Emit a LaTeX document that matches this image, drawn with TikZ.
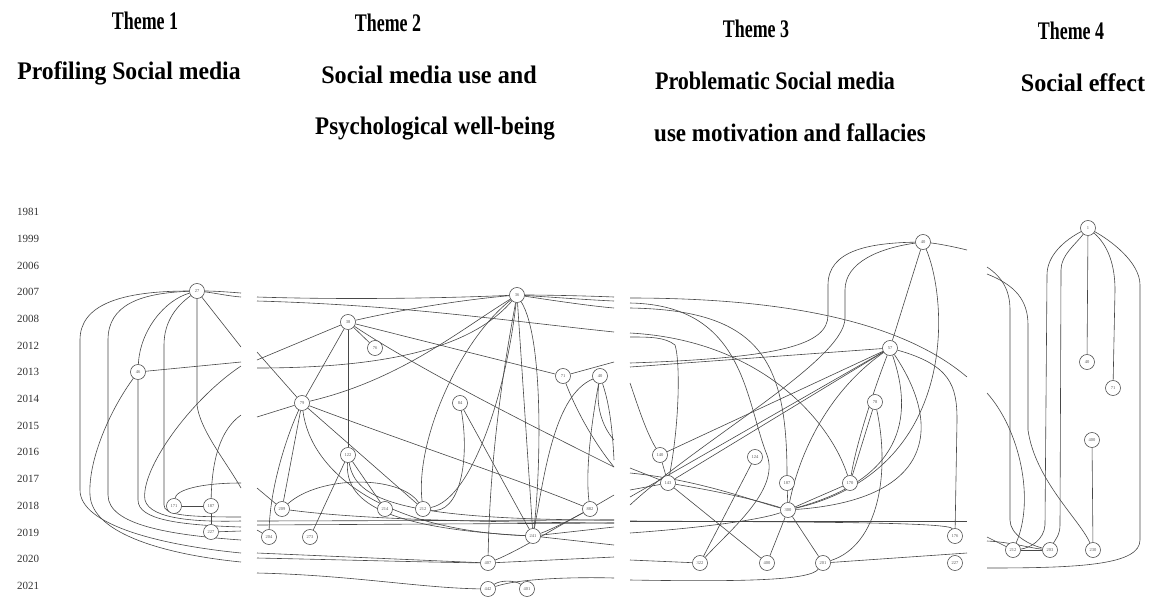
\documentclass[tikz,border=0pt]{standalone}
\usepackage{fontspec}
\setmainfont{Liberation Serif}
\pgfdeclarelayer{bg}
\pgfsetlayers{bg,main}
\begin{document}
\begin{tikzpicture}[x=1pt,y=-1pt,
  nd/.style={circle,draw=black!75,line width=0.55pt,fill=white,minimum size=15pt,inner sep=0pt,font=\fontsize{4.5}{5}\selectfont,text=black!65},
  ed/.style={draw=black!72,line width=0.6pt},
  ttl/.style={font=\bfseries\fontsize{23}{26}\selectfont,anchor=center,inner sep=0pt},
  yr/.style={font=\fontsize{11}{12}\selectfont,anchor=west,inner sep=0pt,text=black!80}]
\useasboundingbox (0,0) rectangle (1151,598);
% titles
\node[ttl] (t1) at (145,21) {\scalebox{0.78}[1.1]{Theme 1}};
\node[ttl] (s1) at (129,73) {\scalebox{1.03}[1.1]{Profiling Social media}};
\node[ttl] (t2) at (388,23) {\scalebox{0.78}[1.1]{Theme 2}};
\node[ttl] (s2a) at (429,75) {\scalebox{1.05}[1.1]{Social media use and}};
\node[ttl] (s2b) at (435,129) {\scalebox{1.0}[1.1]{Psychological well-being}};
\node[ttl] (t3) at (756,29) {\scalebox{0.78}[1.1]{Theme 3}};
\node[ttl] (s3a) at (775,81) {\scalebox{0.96}[1.1]{Problematic Social media}};
\node[ttl] (s3b) at (790,133) {\scalebox{1.0}[1.1]{use motivation and fallacies}};
\node[ttl] (t4) at (1071,31) {\scalebox{0.78}[1.1]{Theme 4}};
\node[ttl] (s4) at (1083,83) {\scalebox{1.05}[1.1]{Social effect}};
% years
\foreach \yy [count=\i from 0] in {1981,1999,2006,2007,2008,2012,2013,2014,2015,2016,2017,2018,2019,2020,2021}
  \node[yr] (y\yy) at (17,{212+26.7*\i}) {\yy};
% ---------- panel 1 ----------
\node[nd] (a27) at (197,291) {27};
\node[nd] (a46) at (138,372) {46};
\node[nd] (a171) at (174,506) {171};
\node[nd] (a187) at (211,506) {187};
\node[nd] (a227) at (211,532) {227};
\coordinate (p1r1) at (241,293);
\coordinate (p1r2) at (241,297);
\coordinate (p1r3) at (241,347);
\coordinate (p1r4) at (241,362);
\coordinate (p1r5) at (241,366);
\coordinate (p1r6) at (241,415);
\coordinate (p1r7) at (241,488);
\coordinate (p1r8) at (241,483);
\coordinate (p1r9) at (241,517);
\coordinate (p1r10) at (241,521);
\coordinate (p1r11) at (241,527);
\coordinate (p1r12) at (241,531);
\coordinate (p1r13) at (241,540);
\coordinate (p1r14) at (241,553);
\coordinate (p1r15) at (241,562);
% ---------- panel 2 ----------
\node[nd] (b36) at (517,295) {36};
\node[nd] (b38) at (348,322) {38};
\node[nd] (b76) at (375,348) {76};
\node[nd] (b79) at (302,403) {79};
\node[nd] (b84) at (460,403) {84};
\node[nd] (b71) at (563,376) {71};
\node[nd] (b40) at (600,376) {40};
\node[nd] (b122) at (348,455) {122};
\node[nd] (b209) at (282,509) {209};
\node[nd] (b204) at (269,537) {204};
\node[nd] (b273) at (310,537) {273};
\node[nd] (b214) at (385,509) {214};
\node[nd] (b212) at (423,509) {212};
\node[nd] (b241) at (533,536) {241};
\node[nd] (b882) at (590,509) {882};
\node[nd] (b407) at (488,563) {407};
\node[nd] (b442) at (488,589) {442};
\node[nd] (b401) at (527,589) {401};
\coordinate (p2l1) at (257,297);
\coordinate (p2l2) at (257,301);
\coordinate (p2l3) at (257,352);
\coordinate (p2l4) at (257,360);
\coordinate (p2l5) at (257,368);
\coordinate (p2l6) at (257,417);
\coordinate (p2l7) at (257,488);
\coordinate (p2l8) at (257,521);
\coordinate (p2l9) at (257,525);
\coordinate (p2l10) at (257,530);
\coordinate (p2l11) at (257,553);
\coordinate (p2l12) at (257,558);
\coordinate (p2l13) at (257,573);
\coordinate (p2r1) at (614,297);
\coordinate (p2r2) at (614,301);
\coordinate (p2r3) at (614,308);
\coordinate (p2r4) at (614,332);
\coordinate (p2r5) at (614,362);
\coordinate (p2r6) at (614,440);
\coordinate (p2r7) at (614,460);
\coordinate (p2r8) at (614,467);
\coordinate (p2r9) at (614,495);
\coordinate (p2r10) at (614,520);
\coordinate (p2r11) at (614,523);
\coordinate (p2r15) at (614,527);
\coordinate (p2r12) at (614,545);
\coordinate (p2r13) at (614,557);
\coordinate (p2r14) at (614,578);
% ---------- panel 3 ----------
\node[nd] (c40) at (923,242) {40};
\node[nd] (c57) at (890,348) {57};
\node[nd] (c78) at (875,402) {78};
\node[nd] (c140) at (660,455) {140};
\node[nd] (c143) at (668,483) {143};
\node[nd] (c124) at (755,457) {124};
\node[nd] (c187) at (787,483) {187};
\node[nd] (c170) at (850,483) {170};
\node[nd] (c300) at (788,510) {300};
\node[nd] (c176) at (955,536) {176};
\node[nd] (c322) at (700,563) {322};
\node[nd] (c400) at (767,563) {400};
\node[nd] (c201) at (823,563) {201};
\node[nd] (c227) at (955,563) {227};
\coordinate (p3l1) at (630,298);
\coordinate (p3l2) at (630,303);
\coordinate (p3l3) at (630,308);
\coordinate (p3l4) at (630,333);
\coordinate (p3l5) at (630,337);
\coordinate (p3l6) at (630,363);
\coordinate (p3l7) at (630,367);
\coordinate (p3l8) at (630,383);
\coordinate (p3l9) at (630,468);
\coordinate (p3l10) at (630,473);
\coordinate (p3l11) at (630,490);
\coordinate (p3l12) at (630,497);
\coordinate (p3l13) at (630,505);
\coordinate (p3l14) at (630,521);
\coordinate (p3l15) at (630,533);
\coordinate (p3l16) at (630,560);
\coordinate (p3l17) at (630,580);
\coordinate (p3r1) at (967,250);
\coordinate (p3r2) at (967,377);
\coordinate (p3r3) at (967,521);
\coordinate (p3r4) at (967,553);
% ---------- panel 4 ----------
\node[nd] (d1) at (1088,228) {1};
\node[nd] (d40) at (1087,362) {40};
\node[nd] (d71) at (1113,388) {71};
\node[nd] (d400) at (1092,440) {400};
\node[nd] (d212) at (1013,550) {212};
\node[nd] (d203) at (1050,550) {203};
\node[nd] (d230) at (1093,550) {230};
\coordinate (p4l1) at (987,267);
\coordinate (p4l2) at (987,274);
\coordinate (p4l3) at (987,393);
\coordinate (p4l4) at (987,537);
\coordinate (p4l5) at (987,541);
\coordinate (p4l6) at (987,568);
\begin{pgfonlayer}{bg}
% panel 1 edges
\draw[ed] (a27) .. controls (215,291) and (228,292) .. (p1r1);
\draw[ed] (a27) .. controls (215,293) and (228,296) .. (p1r2);
\draw[ed] (a27) -- (p1r3);
\draw[ed] (a27) .. controls (120,291) and (80,305) .. (80,340) -- (80,490) .. controls (80,525) and (160,545) .. (p1r14);
\draw[ed] (a27) .. controls (140,293) and (108,305) .. (108,340) -- (108,495) .. controls (108,525) and (170,535) .. (p1r13);
\draw[ed] (a27) .. controls (165,300) and (140,330) .. (a46);
\draw[ed] (a27) .. controls (178,305) and (164,320) .. (164,345) -- (164,505) .. controls (164,515) and (185,517) .. (p1r9);
\draw[ed] (a27) -- (197,405) .. controls (200,430) and (225,460) .. (p1r7);
\draw[ed] (a46) -- (p1r4);
\draw[ed] (a46) -- (138,500) .. controls (138,520) and (180,525) .. (p1r11);
\draw[ed] (a46) .. controls (110,410) and (88,460) .. (90,495) .. controls (92,535) and (170,555) .. (p1r15);
\draw[ed] (p1r5) .. controls (190,400) and (140,470) .. (145,500) .. controls (150,520) and (200,522) .. (p1r10);
\draw[ed] (p1r6) .. controls (220,430) and (212,460) .. (a187);
\draw[ed] (a171) .. controls (176,490) and (200,483) .. (p1r8);
\draw[ed] (a171) -- (a187);
\draw[ed] (a187) -- (a227);
\draw[ed] (a227) -- (p1r12);
% panel 2 edges
\draw[ed] (p2l1) .. controls (350,300) and (450,298) .. (b36);
\draw[ed] (p2l2) .. controls (400,305) and (500,320) .. (p2r4);
\draw[ed] (b36) .. controls (550,295) and (590,296) .. (p2r1);
\draw[ed] (b36) .. controls (550,297) and (590,300) .. (p2r2);
\draw[ed] (b36) .. controls (550,300) and (590,306) .. (p2r3);
\draw[ed] (b38) -- (p2l4);
\draw[ed] (b38) .. controls (400,310) and (460,300) .. (b36);
\draw[ed] (b38) -- (b76);
\draw[ed] (b38) -- (b79);
\draw[ed] (b38) -- (b122);
\draw[ed] (b38) -- (b71);
\draw[ed] (b38) .. controls (420,370) and (540,430) .. (p2r8);
\draw[ed] (p2l6) -- (b79);
\draw[ed] (p2l3) -- (b79);
\draw[ed] (b79) .. controls (400,380) and (460,330) .. (b36);
\draw[ed] (p2l5) .. controls (380,368) and (470,350) .. (b36);
\draw[ed] (b79) -- (b209);
\draw[ed] (b79) .. controls (285,440) and (270,490) .. (b204);
\draw[ed] (b79) -- (b212);
\draw[ed] (b79) .. controls (400,440) and (520,480) .. (b882);
\draw[ed] (b79) .. controls (310,470) and (380,530) .. (b241);
\draw[ed] (b122) -- (b273);
\draw[ed] (b122) -- (b214);
\draw[ed] (b122) .. controls (345,500) and (380,528) .. (b241);
\draw[ed] (b122) .. controls (355,500) and (400,520) .. (p2r10);
\draw[ed] (b209) .. controls (320,475) and (400,475) .. (b212);
\draw[ed] (b209) .. controls (350,518) and (450,522) .. (p2r11);
\draw[ed] (p2l7) -- (b209);
\draw[ed] (p2l10) -- (b204);
\draw[ed] (p2l8) -- (p2r10);
\draw[ed] (p2l9) -- (p2r11);
\draw[ed] (b212) .. controls (415,440) and (460,340) .. (b36);
\draw[ed] (b212) .. controls (470,500) and (505,400) .. (b36);
\draw[ed] (b36) .. controls (505,360) and (490,450) .. (b407);
\draw[ed] (b36) -- (b241);
\draw[ed] (b36) .. controls (545,340) and (540,480) .. (b241);
\draw[ed] (b84) -- (b241);
\draw[ed] (b84) .. controls (470,460) and (460,515) .. (b212);
\draw[ed] (b71) -- (p2r5);
\draw[ed] (b71) .. controls (580,420) and (600,450) .. (p2r8);
\draw[ed] (b40) .. controls (592,420) and (585,470) .. (b882);
\draw[ed] (b40) .. controls (555,395) and (545,470) .. (b241);
\draw[ed] (b40) .. controls (595,410) and (605,430) .. (p2r6);
\draw[ed] (b40) .. controls (608,400) and (612,420) .. (p2r7);
\draw[ed] (b882) -- (p2r9);
\draw[ed] (b882) .. controls (570,520) and (550,530) .. (b241);
\draw[ed] (b882) .. controls (560,525) and (520,550) .. (b407);
\draw[ed] (b241) -- (p2r15);
\draw[ed] (b241) -- (p2r12);
\draw[ed] (b407) -- (p2r13);
\draw[ed] (p2l11) -- (b407);
\draw[ed] (p2l12) .. controls (350,560) and (420,562) .. (b407);
\draw[ed] (p2l13) .. controls (350,575) and (420,588) .. (b442);
\draw[ed] (b442) .. controls (500,580) and (515,580) .. (b401);
\draw[ed] (b442) .. controls (520,578) and (580,577) .. (p2r14);
% panel 3 edges
\draw[ed] (c40) .. controls (870,243) and (828,250) .. (828,285) -- (828,315) .. controls (828,345) and (780,358) .. (p3l6);
\draw[ed] (c40) .. controls (880,248) and (845,262) .. (845,290) -- (845,318) .. controls (845,360) and (700,440) .. (p3l13);
\draw[ed] (c40) -- (c57);
\draw[ed] (c40) .. controls (940,244) and (955,247) .. (p3r1);
\draw[ed] (c40) .. controls (948,300) and (960,470) .. (c300);
\draw[ed] (p3l1) .. controls (780,298) and (900,320) .. (p3r2);
\draw[ed] (p3l3) .. controls (760,310) and (787,360) .. (c187);
\draw[ed] (p3l4) .. controls (760,340) and (830,420) .. (c170);
\draw[ed] (p3l2) .. controls (745,305) and (745,400) .. (767,455) .. controls (780,490) and (730,530) .. (c322);
\draw[ed] (c143) .. controls (680,420) and (680,360) .. (675,345) .. controls (665,337) and (650,337) .. (p3l5);
\draw[ed] (c140) .. controls (645,430) and (636,400) .. (p3l8);
\draw[ed] (c57) -- (c140);
\draw[ed] (c57) -- (c143);
\draw[ed] (p3l7) -- (c57);
\draw[ed] (c57) .. controls (870,400) and (855,450) .. (c170);
\draw[ed] (c57) .. controls (830,390) and (800,450) .. (c300);
\draw[ed] (c57) .. controls (950,365) and (957,385) .. (957,420) -- (c176);
\draw[ed] (c57) .. controls (915,420) and (900,480) .. (c300);
\draw[ed] (c57) .. controls (945,430) and (930,500) .. (c300);
\draw[ed] (c78) -- (c170);
\draw[ed] (c78) .. controls (890,470) and (880,545) .. (c201);
\draw[ed] (c170) -- (c300);
\draw[ed] (c187) -- (c300);
\draw[ed] (c124) -- (c322);
\draw[ed] (c300) -- (c400);
\draw[ed] (c300) -- (c201);
\draw[ed] (c143) -- (c400);
\draw[ed] (c143) .. controls (710,490) and (750,498) .. (c300);
\draw[ed] (c140) -- (c143);
\draw[ed] (p3l9) -- (c143);
\draw[ed] (p3l11) -- (c143);
\draw[ed] (p3l12) -- (c57);
\draw[ed] (p3l10) .. controls (700,480) and (750,500) .. (c300);
\draw[ed] (p3l14) -- (p3r3);
\draw[ed] (p3l15) .. controls (700,528) and (760,520) .. (c300);
\draw[ed] (p3l14) .. controls (800,522) and (950,522) .. (c176);
\draw[ed] (p3l16) -- (c322);
\draw[ed] (p3l17) .. controls (750,582) and (810,580) .. (c201);
\draw[ed] (c201) -- (p3r4);
% panel 4 edges
\draw[ed] (d1) -- (d40);
\draw[ed] (d1) .. controls (1108,245) and (1115,265) .. (1115,290) -- (d71);
\draw[ed] (d1) .. controls (1110,240) and (1140,262) .. (1140,285) -- (1140,540) .. controls (1140,565) and (1080,568) .. (p4l6);
\draw[ed] (d1) .. controls (1065,240) and (1047,255) .. (1047,275) -- (1045,525) .. controls (1044,540) and (1030,548) .. (d212);
\draw[ed] (d1) .. controls (1075,245) and (1061,255) .. (1061,270) -- (1060,525) .. controls (1060,535) and (1055,540) .. (d203);
\draw[ed] (d400) -- (d230);
\draw[ed] (p4l1) .. controls (1002,277) and (1010,290) .. (1010,310) -- (1010,520) .. controls (1010,535) and (1030,545) .. (d203);
\draw[ed] (p4l2) .. controls (1015,285) and (1028,300) .. (1028,325) -- (1028,430) .. controls (1035,480) and (1080,520) .. (d230);
\draw[ed] (p4l3) .. controls (1020,430) and (1035,500) .. (d212);
\draw[ed] (p4l4) -- (d212);
\draw[ed] (p4l5) .. controls (1010,542) and (1030,548) .. (d203);
\draw[ed] (d212) -- (d203);
\end{pgfonlayer}
\end{tikzpicture}
\end{document}
